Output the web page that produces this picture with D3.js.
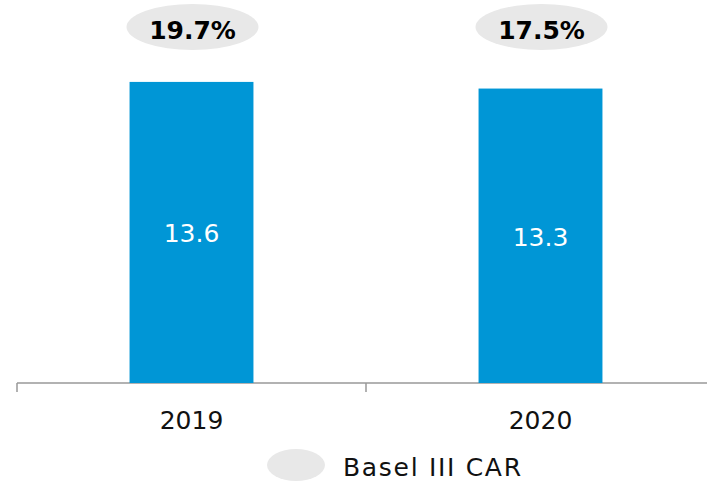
<!DOCTYPE html>
<html><head><meta charset="utf-8">
<script src="https://cdn.jsdelivr.net/npm/d3@7/dist/d3.min.js"></script>
<style>body{margin:0;background:#fff}svg{display:block}text{font-family:"DejaVu Sans",Verdana,sans-serif}</style>
</head><body>
<script>
const categories = ["2019", "2020"];
const values = [13.6, 13.3];
const carLabels = ["19.7%", "17.5%"];
const legendLabel = "Basel III CAR";

const W = 707, H = 482;
const svg = d3.select("body").append("svg").attr("width", W).attr("height", H);

const x = d3.scaleBand().domain(categories).range([17, 715]).padding(0);
const y = d3.scaleLinear().domain([0, 17.3]).range([383, 0]);
const barW = x.bandwidth() * 0.355;

// axis
const axisG = svg.append("g").attr("transform", `translate(0,${y(0)})`);
axisG.append("line").attr("x1", 17).attr("x2", W).attr("y1", 0).attr("y2", 0)
  .attr("stroke", "#999").attr("stroke-width", 1.5);
categories.forEach(c => {
  axisG.append("line").attr("x1", x(c)).attr("x2", x(c)).attr("y1", 0).attr("y2", 9)
    .attr("stroke", "#999").attr("stroke-width", 1.5);
});

// bars
svg.selectAll("rect.bar").data(values).enter().append("rect")
  .attr("class", "bar")
  .attr("x", (d, i) => x(categories[i]) + x.bandwidth() / 2 - barW / 2)
  .attr("y", d => y(d))
  .attr("width", barW)
  .attr("height", d => y(0) - y(d))
  .attr("fill", "#0096d6");

svg.selectAll("text.val").data(values).enter().append("text")
  .attr("x", (d, i) => x(categories[i]) + x.bandwidth() / 2)
  .attr("y", d => (y(d) + y(0)) / 2 + 10)
  .attr("text-anchor", "middle").attr("fill", "#fff").attr("font-size", 25)
  .text(d => d.toFixed(1));

// category labels
svg.selectAll("text.cat").data(categories).enter().append("text")
  .attr("x", d => x(d) + x.bandwidth() / 2)
  .attr("y", 429)
  .attr("text-anchor", "middle").attr("fill", "#111").attr("font-size", 25)
  .text(d => d);

// CAR ellipses
carLabels.forEach((l, i) => {
  const cx = x(categories[i]) + x.bandwidth() / 2 + 1;
  svg.append("ellipse").attr("cx", cx).attr("cy", 27).attr("rx", 66).attr("ry", 23).attr("fill", "#e8e8e8");
  svg.append("text").attr("x", cx).attr("y", 39).attr("text-anchor", "middle")
    .attr("font-size", 25).attr("font-weight", "bold").attr("fill", "#000").text(l);
});

// legend
svg.append("ellipse").attr("cx", 296).attr("cy", 465).attr("rx", 29).attr("ry", 16).attr("fill", "#e8e8e8");
svg.append("text").attr("x", 343).attr("y", 476).attr("font-size", 25).attr("fill", "#111")
  .attr("textLength", 178).attr("lengthAdjust", "spacing").text(legendLabel);
</script>
</body></html>
